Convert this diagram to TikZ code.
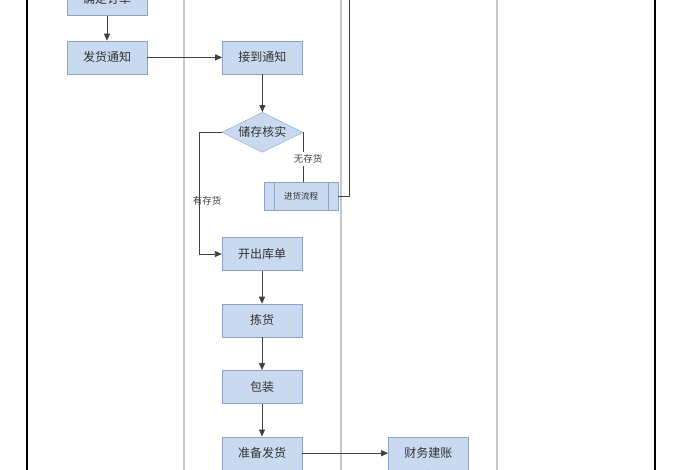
\documentclass[tikz,border=0pt]{standalone}
\usepackage{fontspec}
\newfontfamily\cjk{Noto Sans CJK SC}
\usetikzlibrary{positioning,arrows.meta,shapes.geometric}
\definecolor{boxfill}{RGB}{201,218,240}
\definecolor{boxline}{RGB}{140,163,198}
\definecolor{flow}{RGB}{64,64,64}

\begin{document}
\begin{tikzpicture}[x=1pt,y=-1pt,
  node distance=33pt,
  box/.style={draw=boxline,fill=boxfill,minimum width=80pt,minimum height=33pt,
              font=\cjk\fontsize{12}{14}\selectfont,text=black!80,inner sep=2pt},
  check/.style={box,diamond,aspect=2,minimum width=81pt,minimum height=40pt,inner sep=0pt},
  subproc/.style={box,minimum width=74pt,minimum height=28pt,font=\cjk\fontsize{8.5}{10}\selectfont,
              path picture={\draw[boxline]
                ([xshift=10pt]path picture bounding box.north west) -- ([xshift=10pt]path picture bounding box.south west)
                ([xshift=-10pt]path picture bounding box.north east) -- ([xshift=-10pt]path picture bounding box.south east);}},
  lbl/.style={font=\cjk\fontsize{9.5}{11}\selectfont,text=black!75,fill=white,inner sep=3pt},
  lane/.style={draw=black!22,line width=1.4pt},
  wall/.style={draw=black,line width=2.6pt},
  ln/.style={draw=flow,line width=0.9pt},
  ar/.style={ln,-{Triangle[length=7pt,width=6pt]}}
]
\clip (0,0) rectangle (700,470);
\fill[white] (0,0) rectangle (700,470);

% lanes
\foreach \x in {184,341,497} \draw[lane] (\x,0) -- (\x,470);
\foreach \x in {27,655} \draw[wall] (\x,0) -- (\x,470);

\node[box] (qd) at (107,-1) {确定订单};
\node[box,below=25pt of qd] (fh) {发货通知};
\node[box,right=75pt of fh] (jd) {接到通知};
\node[check,below=38pt of jd] (hs) {储存核实};
\node[subproc] (jh) at (301,196) {进货流程};
\node[box] (ck) at (262,254) {开出库单};
\node[box,below=of ck] (jk) {拣货};
\node[box,below=of jk] (bz) {包装};
\node[box,below=of bz] (zb) {准备发货};
\node[box,right=86pt of zb] (cw) {财务建账};

\coordinate (up) at (349,-10);
\coordinate (down) at (428,480);

\draw[ar] (qd) -- (fh);
\draw[ar] (fh) -- (jd);
\draw[ar] (jd) -- (hs);
\draw[ln] (hs.east) -- (hs.east |- jh.north);
\node[lbl] (wu) at (308,159) {无存货};
\node[lbl] (you) at (207,201) {有存货};
\draw[ar] (hs.west) -- ++(-22,0) |- (ck);
\draw[ln] (jh.east) -| (up);
\draw[ar] (ck) -- (jk);
\draw[ar] (jk) -- (bz);
\draw[ar] (bz) -- (zb);
\draw[ar] (zb) -- (cw);
\draw[ln] (cw) -- (down);
\end{tikzpicture}
\end{document}
